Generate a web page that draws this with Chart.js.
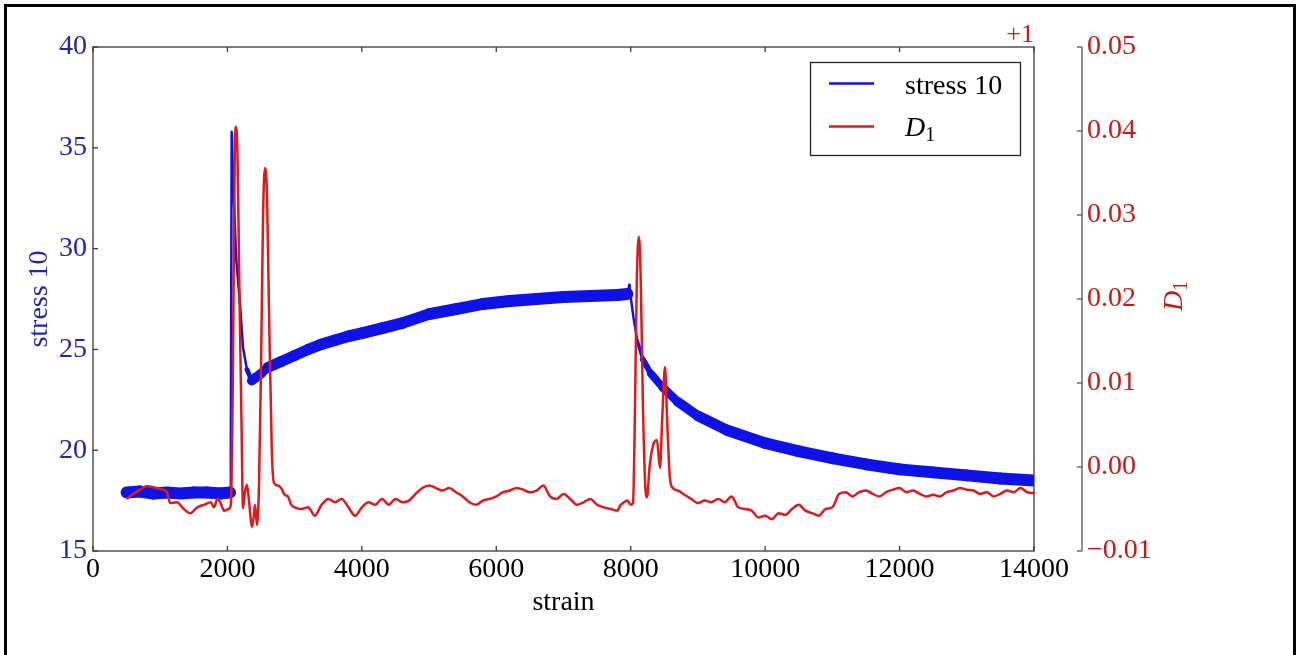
<!DOCTYPE html>
<html>
<head>
<meta charset="utf-8">
<script src="https://cdn.jsdelivr.net/npm/chart.js@4.4.1/dist/chart.umd.min.js"></script>
<style>
html,body{margin:0;padding:0;background:#fff;}
#c{display:block;}
</style>
</head>
<body>
<canvas id="c" width="1300" height="655"></canvas>
<script>
// ---- data ----
const stressStrain = [500,700,900,1100,1300,1500,1700,1900,2040,2050,2063,2090,2130,2186,2232,2290,2361,2420,2500,2600,2800,3000,3200,3400,3600,3800,4000,4300,4600,5000,5400,5800,6200,6600,7000,7400,7800,7950,7980,8000,8040,8100,8180,8300,8480,8700,9000,9430,10000,10500,11000,11500,12000,12500,13000,13500,14000];
const stressValues = [17.9,17.95,17.85,17.9,17.85,17.9,17.9,17.85,17.9,20.0,35.8,33.0,29.5,27.3,25.1,24.0,23.45,23.6,23.8,24.1,24.4,24.7,25.0,25.25,25.45,25.65,25.8,26.05,26.3,26.75,27.0,27.25,27.4,27.5,27.6,27.65,27.7,27.75,28.2,27.6,26.6,25.4,24.5,23.8,23.1,22.4,21.7,21.0,20.35,19.95,19.6,19.3,19.05,18.9,18.75,18.6,18.5];

const dStrain = [500,600,700,800,900,1000,1100,1150,1250,1350,1450,1550,1650,1750,1800,1850,1900,1950,2020,2050,2080,2110,2128,2150,2180,2210,2232,2260,2290,2320,2366,2390,2410,2440,2470,2500,2530,2560,2590,2620,2660,2693,2750,2800,2850,2900,2950,3000,3100,3200,3300,3400,3500,3600,3700,3800,3900,4000,4100,4200,4300,4400,4500,4600,4700,4800,4900,5000,5100,5200,5300,5400,5500,5600,5700,5800,5900,6000,6100,6200,6300,6400,6500,6600,6700,6800,6900,7000,7100,7200,7300,7400,7500,7600,7700,7800,7850,7900,7950,8000,8034,8060,8090,8123,8150,8180,8215,8242,8280,8330,8390,8435,8470,8510,8540,8580,8614,8700,8800,8900,9000,9100,9200,9300,9400,9500,9600,9700,9800,9900,10000,10100,10200,10300,10400,10500,10600,10700,10800,10900,11000,11100,11200,11300,11400,11500,11600,11700,11800,11900,12000,12100,12200,12300,12400,12500,12600,12700,12800,12900,13000,13100,13200,13300,13400,13500,13600,13700,13800,13900,14000];
const dValues = [-0.0038,-0.0032,-0.0027,-0.0023,-0.0024,-0.0026,-0.003,-0.0043,-0.0042,-0.005,-0.0055,-0.0048,-0.0045,-0.0042,-0.0048,-0.0038,-0.0043,-0.0052,-0.005,-0.0045,0.01,0.038,0.0405,0.037,0.02,0.005,-0.0049,-0.003,-0.0021,-0.004,-0.0071,-0.006,-0.0045,-0.0069,-0.002,0.012,0.03,0.0356,0.032,0.018,0.002,-0.0019,-0.0022,-0.0025,-0.0033,-0.0035,-0.0045,-0.0048,-0.005,-0.0048,-0.0058,-0.0045,-0.0038,-0.0042,-0.0038,-0.0048,-0.0058,-0.0048,-0.0042,-0.0045,-0.0038,-0.0045,-0.0038,-0.0042,-0.004,-0.0032,-0.0025,-0.0022,-0.0025,-0.0028,-0.0025,-0.003,-0.0035,-0.0042,-0.0045,-0.004,-0.0038,-0.0035,-0.003,-0.0028,-0.0025,-0.0027,-0.003,-0.0028,-0.0022,-0.0035,-0.0038,-0.0032,-0.0038,-0.0045,-0.0042,-0.0038,-0.0045,-0.0048,-0.005,-0.0052,-0.0045,-0.0042,-0.004,-0.0045,-0.0043,0.005,0.022,0.0274,0.022,0.008,-0.002,-0.0036,0.0,0.0025,0.0032,-0.0001,0.006,0.0119,0.006,-0.001,-0.0024,-0.0028,-0.0033,-0.0038,-0.0043,-0.004,-0.0042,-0.0038,-0.0042,-0.0035,-0.0048,-0.005,-0.0052,-0.006,-0.0058,-0.0062,-0.0055,-0.0057,-0.005,-0.0045,-0.0052,-0.0055,-0.0058,-0.005,-0.0048,-0.0032,-0.003,-0.0035,-0.003,-0.0028,-0.0032,-0.0035,-0.003,-0.0027,-0.0025,-0.003,-0.0028,-0.0032,-0.0035,-0.0033,-0.0035,-0.003,-0.0028,-0.0025,-0.0027,-0.0028,-0.0032,-0.003,-0.0035,-0.0032,-0.0028,-0.003,-0.0025,-0.003,-0.0031];

const xTickStep = 2000;
const stressTickStep = 5;
const dTickStep = 0.01;

// ---- styles ----
const BLUE_LINE = '#0f12e6';
const RED_LINE = '#e0191b';
const BLUE_TEXT = '#2323ad';
const RED_TEXT = '#c41a1a';
const FONT = "'Liberation Serif', 'DejaVu Serif', serif";

Chart.defaults.font.family = FONT;

function fmtD(v){
  if (Math.abs(v) < 1e-9) return '0.00';
  return (v < 0 ? '\u2212' : '') + Math.abs(v).toFixed(2);
}
function zeroPad(s){ s.paddingTop = 0; s.paddingBottom = 0; s.paddingLeft = 0; s.paddingRight = 0; }

const decorPlugin = {
  id: 'decor',
  beforeDraw(chart){
    const ctx = chart.ctx;
    ctx.save();
    ctx.fillStyle = '#fff';
    ctx.fillRect(0,0,chart.width,chart.height);
    ctx.strokeStyle = '#000';
    ctx.lineWidth = 3;
    ctx.strokeRect(5.5, 5.5, 1289, 665);
    ctx.restore();
  },
  afterDatasetsDraw(chart){
    const {ctx, chartArea: a, scales} = chart;
    const line = (x1,y1,x2,y2) => { ctx.beginPath(); ctx.moveTo(x1,y1); ctx.lineTo(x2,y2); ctx.stroke(); };
    ctx.save();
    ctx.strokeStyle = '#3a3a3a';
    ctx.lineWidth = 1.3;
    ctx.strokeRect(a.left, a.top, a.right - a.left, a.bottom - a.top);
    scales.x.ticks.forEach(t => {
      const px = scales.x.getPixelForValue(t.value);
      line(px, a.bottom, px, a.bottom - 5);
      line(px, a.top, px, a.top + 5);
    });
    scales.y.ticks.forEach(t => {
      const py = scales.y.getPixelForValue(t.value);
      line(a.left, py, a.left + 5, py);
    });
    // offset secondary spine
    const sx = a.right + 48;
    ctx.strokeStyle = '#555';
    line(sx, a.top, sx, a.bottom);
    scales.y1.ticks.forEach(t => {
      const py = scales.y1.getPixelForValue(t.value);
      line(sx - 5, py, sx, py);
    });
    // offset text "+1"
    ctx.fillStyle = RED_TEXT;
    ctx.font = "26px " + FONT;
    ctx.textAlign = 'right';
    ctx.textBaseline = 'alphabetic';
    ctx.fillText('+1', a.right, 42);
    // right axis label D_1 (rotated)
    ctx.save();
    ctx.translate(1182, 296);
    ctx.rotate(-Math.PI/2);
    ctx.textAlign = 'left';
    ctx.font = "italic 28px " + FONT;
    const wD = ctx.measureText('D').width;
    ctx.font = "20px " + FONT;
    const w1 = ctx.measureText('1').width;
    const total = wD + w1;
    ctx.font = "italic 28px " + FONT;
    ctx.fillText('D', -total/2, 0);
    ctx.font = "20px " + FONT;
    ctx.fillText('1', -total/2 + wD, 5);
    ctx.restore();
    // legend
    ctx.fillStyle = '#fff';
    ctx.fillRect(810, 62, 210, 93);
    ctx.strokeStyle = '#222';
    ctx.lineWidth = 1.3;
    ctx.strokeRect(810.5, 62.5, 210, 93);
    ctx.lineWidth = 2.5;
    ctx.strokeStyle = BLUE_LINE;
    line(829, 83.5, 874, 83.5);
    ctx.strokeStyle = RED_LINE;
    line(829, 126.5, 874, 126.5);
    ctx.fillStyle = '#000';
    ctx.textAlign = 'left';
    ctx.font = "28px " + FONT;
    ctx.fillText(chart.data.datasets[0].label, 905, 94);
    ctx.font = "italic 28px " + FONT;
    ctx.fillText('D', 905, 136);
    const wd2 = ctx.measureText('D').width;
    ctx.font = "20px " + FONT;
    ctx.fillText('1', 905 + wd2, 141);
    ctx.restore();
  }
};

const ctx = document.getElementById('c').getContext('2d');
new Chart(ctx, {
  type: 'line',
  data: {
    datasets: [
      {
        label: 'stress 10',
        data: stressStrain.map((s,i) => ({x: s, y: stressValues[i]})),
        borderColor: BLUE_LINE,
        borderWidth: 11,
        borderCapStyle: 'round',
        borderJoinStyle: 'round',
        pointRadius: 0,
        tension: 0,
        yAxisID: 'y',
        order: 2,
        segment: {
          borderWidth: c => {
            const dx = Math.abs(c.p1.x - c.p0.x) || 0.01;
            const s = Math.abs(c.p1.y - c.p0.y) / dx;
            return Math.max(2.5, 12 / Math.sqrt(1 + s*s));
          }
        }
      },
      {
        label: 'D1',
        data: dStrain.map((s,i) => ({x: s, y: dValues[i]})),
        borderColor: RED_LINE,
        borderWidth: 2.5,
        borderJoinStyle: 'round',
        pointRadius: 0,
        cubicInterpolationMode: 'monotone',
        yAxisID: 'y1',
        order: 1
      }
    ]
  },
  options: {
    responsive: false,
    animation: false,
    devicePixelRatio: 1,
    layout: { padding: { top: 47, left: 0, right: 0, bottom: 0 } },
    plugins: { legend: { display: false }, tooltip: { enabled: false } },
    scales: {
      x: {
        type: 'linear',
        min: 0, max: 14000,
        grid: { display: false, drawTicks: false },
        border: { display: false },
        ticks: { stepSize: xTickStep, color: '#000', font: { size: 28, family: FONT }, padding: 2, maxRotation: 0, autoSkip: false, callback: v => String(v) },
        title: { display: true, text: 'strain', color: '#000', font: { size: 28, family: FONT }, padding: { top: 0, bottom: 36 } },
        afterFit: s => { s.height = 104; zeroPad(s); }
      },
      y: {
        position: 'left',
        min: 15, max: 40,
        grid: { display: false, drawTicks: false },
        border: { display: false },
        ticks: { stepSize: stressTickStep, color: BLUE_TEXT, font: { size: 28, family: FONT }, padding: 6 },
        title: { display: true, text: 'stress 10', color: BLUE_TEXT, font: { size: 28, family: FONT }, padding: { top: 23, bottom: 0 } },
        afterFit: s => { s.width = 93; zeroPad(s); }
      },
      y1: {
        position: 'right',
        min: -0.01, max: 0.05,
        grid: { display: false, drawTicks: false },
        border: { display: false },
        ticks: { stepSize: dTickStep, color: RED_TEXT, font: { size: 28, family: FONT }, padding: 53, callback: v => fmtD(v) },
        afterFit: s => { s.width = 266; zeroPad(s); }
      }
    }
  },
  plugins: [decorPlugin]
});
</script>
</body>
</html>
